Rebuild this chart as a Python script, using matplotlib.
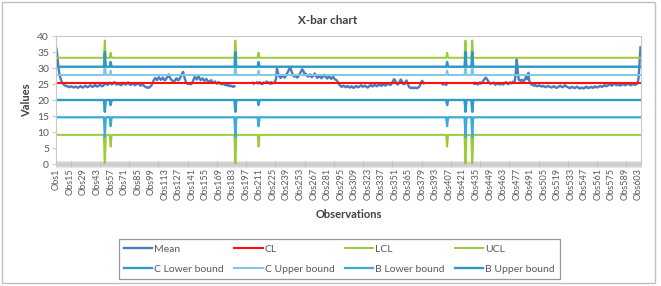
import numpy as np
import matplotlib
matplotlib.use("Agg")
import matplotlib.pyplot as plt
from matplotlib.patches import Rectangle

plt.rcParams['font.family'] = ['Lato', 'DejaVu Sans']

# ---------------- data ----------------
N_OBS = 605
categories = [f"Obs{i}" for i in range(1, N_OBS + 1)]
tick_obs = list(range(1, N_OBS + 1, 14))

mean_values = [
    36.0, 33.5, 30.2, 28.1, 26.9, 26.0, 25.4, 25.0, 24.7, 24.5,
    24.3, 24.4, 24.2, 24.0, 24.1, 24.3, 24.2, 24.0, 23.9, 24.1,
    24.2, 24.0, 23.8, 24.0, 24.2, 24.4, 24.1, 23.9, 24.0, 24.3,
    24.5, 24.2, 24.0, 24.1, 24.4, 24.6, 24.3, 24.1, 24.2, 24.5,
    24.7, 24.4, 24.2, 24.3, 24.6, 24.8, 24.5, 24.3, 24.4, 24.7,
    25.0, 25.3, 24.9, 24.7, 25.1, 25.4, 25.2, 24.9, 25.0, 25.3,
    25.6, 25.2, 24.8, 24.9, 25.3, 25.1, 24.7, 24.6, 25.0, 25.4,
    25.2, 24.8, 24.9, 25.2, 25.5, 25.1, 24.8, 24.7, 25.0, 25.2,
    24.9, 24.6, 24.8, 25.1, 25.3, 25.0, 24.7, 24.5, 24.6, 24.9,
    24.6, 24.3, 24.1, 23.9, 24.0, 23.8, 23.9, 24.2, 24.5, 25.0,
    25.8, 26.4, 26.9, 26.5, 26.2, 26.8, 27.1, 26.6, 26.3, 26.7,
    27.0, 26.5, 26.1, 26.4, 26.9, 27.4, 28.0, 27.2, 26.6, 26.3,
    26.0, 25.7, 25.9, 26.3, 26.8, 26.4, 26.1, 26.5, 27.0, 27.6,
    28.3, 28.8, 27.5, 26.4, 25.6, 25.2, 25.0, 25.3, 25.1, 24.9,
    25.2, 25.8, 26.6, 27.2, 26.8, 26.4, 26.9, 27.5, 26.7, 26.2,
    26.5, 26.8, 26.3, 26.0, 26.2, 26.6, 26.1, 25.8, 25.6, 25.9,
    26.2, 25.7, 25.4, 25.5, 25.8, 25.3, 25.1, 25.4, 25.6, 25.2,
    25.0, 24.9, 25.2, 25.0, 24.7, 24.8, 24.6, 24.5, 24.7, 24.4,
    24.3, 24.5, 24.2, 24.1, 24.3, None, None, None, None, None,
    None, None, None, None, None, None, None, None, None, None,
    None, None, None, 25.4, 25.1, None, None, 25.5, 25.2, 25.3,
    25.6, 25.2, None, 25.0, 25.4, None, None, 25.7, 25.3, 25.5,
    None, 25.1, 25.6, 25.2, None, 25.4, 25.8, 26.5, 29.8, 28.6,
    27.6, 27.2, 26.9, 27.3, 27.8, 27.4, 27.0, 27.5, 28.1, 28.6,
    29.2, 29.9, 30.0, 29.1, 28.2, 27.6, 27.3, 27.8, 27.4, 27.0,
    27.3, 27.9, 28.4, 29.0, 29.6, 29.3, 28.5, 27.9, 28.2, 27.7,
    27.3, 27.6, 28.0, 27.5, 27.1, 27.4, 27.8, 28.3, 27.7, 27.2,
    26.9, 27.3, 27.7, 27.2, 26.8, 27.1, 27.5, 27.9, 27.4, 27.0,
    26.7, 27.1, 27.4, 27.0, 26.6, 26.9, 27.3, 26.8, 26.5, 26.3,
    26.1, 25.6, 25.0, 24.6, 24.3, 24.1, 24.3, 24.5, 24.2, 24.0,
    24.2, 24.4, 24.1, 23.9, 24.0, 24.3, 24.1, 23.8, 23.9, 24.2,
    24.4, 24.2, 24.0, 24.1, 24.4, 24.6, 24.3, 24.1, 24.3, 24.5,
    24.3, 24.0, 23.9, 24.2, 24.5, 24.7, 24.4, 24.2, 24.5, 24.8,
    24.6, 24.3, 24.4, 24.7, 24.9, 24.6, 24.4, 24.7, 25.0, 24.8,
    24.5, 24.6, 24.9, 25.2, 25.0, 24.7, 24.8, 25.3, 25.9, 26.5,
    26.2, 25.6, 25.1, 24.8, 25.2, 25.8, 26.4, 26.0, 25.3, 24.9,
    25.0, 25.6, 26.1, 25.2, 24.5, 24.0, 23.8, 23.7, 23.9, 23.8,
    23.7, 23.9, 23.8, 23.7, 23.9, 24.1, 24.6, 25.4, 26.0, 25.7,
    25.2, None, None, None, None, None, None, None, None, None,
    None, None, None, None, None, None, None, None, None, 25.1,
    24.8, 25.2, 25.0, 24.7, 25.3, None, None, None, None, None,
    None, None, None, None, None, None, None, None, None, None,
    None, None, None, None, None, None, None, None, None, None,
    None, 25.3, 25.0, 25.4, 25.1, None, 24.9, 25.2, 25.5, 25.1,
    25.4, 25.8, 26.3, 26.7, 27.0, 26.6, 26.1, 25.6, 25.3, 25.0,
    25.2, None, 25.4, 25.0, 24.8, None, 25.1, 25.3, 24.9, None,
    25.0, 25.2, 24.8, 25.1, 25.4, 25.6, 25.2, 24.9, 25.3, 25.5,
    25.2, 25.4, 25.7, 25.5, 26.0, 28.6, 32.7, 29.0, 26.4, 26.1,
    26.0, 26.3, 26.1, 25.9, 26.2, 26.8, 27.7, 26.5, 28.5, 26.0,
    25.3, 24.9, 24.8, 24.6, 24.5, 24.7, 24.5, 24.3, 24.4, 24.6,
    24.5, 24.3, 24.2, 24.4, 24.3, 24.1, 24.0, 24.2, 24.4, 24.3,
    24.1, 24.0, 23.9, 24.1, 24.3, 24.2, 24.0, 23.8, 23.9, 24.1,
    24.3, 24.5, 24.2, 24.0, 24.1, 24.4, 24.6, 24.3, 24.1, 24.0,
    23.8, 23.7, 23.9, 24.1, 24.0, 23.8, 23.7, 23.9, 24.2, 24.0,
    23.8, 23.6, 23.7, 23.9, 23.8, 23.6, 23.7, 24.0, 24.2, 23.9,
    23.7, 23.8, 24.0, 24.1, 23.9, 23.8, 24.0, 24.3, 24.1, 23.9,
    24.0, 24.2, 24.4, 24.3, 24.1, 24.2, 24.5, 24.7, 24.4, 24.3,
    24.5, 24.8, 25.0, 24.7, 24.5, 24.6, 24.9, 25.2, 24.9, 24.6,
    24.7, 25.0, 24.8, 24.5, 24.6, 24.9, 25.1, 24.8, 24.6, 24.7,
    24.9, 25.2, 25.0, 24.7, 24.6, 24.8, 25.1, 24.9, 24.7, 24.8,
    25.0, 25.3, 27.0, 32.0, 36.5,
]

# control limits (constant level, with wider limits at a few observations)
cl_value = 25.4
ucl_base, lcl_base = 33.2, 9.1
c_upper_base, c_lower_base = 27.8, 20.0
b_upper_base, b_lower_base = 30.4, 14.6

spike_obs = [51, 57, 186, 210, 405, 424, 431]
ucl_spike = [38.6, 34.8, 38.6, 34.8, 34.8, 38.6, 38.6]
lcl_spike = [-2.0, 5.4, -2.0, 5.4, 5.4, -2.0, -2.0]
c_upper_spike = [31.9, 29.2, 31.9, 29.2, 29.2, 31.9, 31.9]
c_lower_spike = [16.3, 18.4, 16.3, 18.4, 18.4, 16.3, 16.3]
b_upper_spike = [35.0, 31.9, 35.0, 31.9, 31.9, 35.0, 35.0]
b_lower_spike = [8.5, 11.8, 8.5, 11.8, 11.8, 8.5, 8.5]

# ---------------- build series ----------------
x = np.arange(1, N_OBS + 1)
mean = np.array([np.nan if v is None else v for v in mean_values], dtype=float)
idx = np.array(spike_obs) - 1


def limit_series(base, spikes):
    s = np.full(N_OBS, base, dtype=float)
    s[idx] = spikes
    return s


cl = np.full(N_OBS, cl_value)
ucl = limit_series(ucl_base, ucl_spike)
lcl = limit_series(lcl_base, lcl_spike)
c_up = limit_series(c_upper_base, c_upper_spike)
c_lo = limit_series(c_lower_base, c_lower_spike)
b_up = limit_series(b_upper_base, b_upper_spike)
b_lo = limit_series(b_lower_base, b_lower_spike)

# ---------------- figure ----------------
W, H = 661, 286
fig = plt.figure(figsize=(W / 100, H / 100), dpi=100)
fig.patch.set_facecolor('white')

fig.add_artist(Rectangle((2 / W, 1 - 283 / H), 653 / W, 281 / H,
                         transform=fig.transFigure, fill=False,
                         edgecolor='#BFBFBF', linewidth=1.0))

ax = fig.add_axes([56 / W, 1 - 164 / H, 585 / W, 128 / H])

green = '#9CCB3A'
h_mean, = ax.plot(x, mean, color='#4F7DBA', lw=1.7, label='Mean', solid_joinstyle='round')
h_cl, = ax.plot(x, cl, color='#FF1010', lw=1.5, label='CL')
h_lcl, = ax.plot(x, lcl, color=green, lw=1.4, label='LCL')
h_ucl, = ax.plot(x, ucl, color=green, lw=1.4, label='UCL')
h_clo, = ax.plot(x, c_lo, color='#2D9CC9', lw=1.7, label='C Lower bound')
h_cup, = ax.plot(x, c_up, color='#7CC8E4', lw=1.4, label='C Upper bound')
h_blo, = ax.plot(x, b_lo, color='#3EAAD6', lw=1.6, label='B Lower bound')
h_bup, = ax.plot(x, b_up, color='#2B98C5', lw=1.7, label='B Upper bound')

ax.set_xlim(0.5, N_OBS + 0.5)
ax.set_ylim(0, 40)
ax.set_yticks(range(0, 41, 5))
ax.set_xticks(tick_obs)
ax.set_xticklabels([categories[i - 1] for i in tick_obs], rotation=90,
                   fontsize=6.6, color='#595959')
ax.set_xticks(np.arange(0.5, N_OBS + 1, 1.0), minor=True)
ax.tick_params(axis='x', which='major', length=0, pad=3)
ax.tick_params(axis='x', which='minor', length=4, width=0.4,
               color='#B0B0B0', direction='inout')
ax.tick_params(axis='y', labelsize=7.5, labelcolor='#595959', length=3,
               width=0.6, color='#BFBFBF', pad=2)
for sp in ax.spines.values():
    sp.set_color('#C8C8C8')
    sp.set_linewidth(0.8)

fig.text(328 / W, 1 - 21 / H, 'X-bar chart', ha='center', va='center',
         fontsize=8.5, fontweight='bold', color='#404040')
fig.text(27 / W, 1 - 100 / H, 'Values', ha='center', va='center',
         rotation=90, fontsize=8, fontweight='bold', color='#404040')
fig.text(349 / W, 1 - 214 / H, 'Observations', ha='center', va='center',
         fontsize=8, fontweight='bold', color='#404040')

handles = [h_mean, h_clo, h_cl, h_cup, h_lcl, h_blo, h_ucl, h_bup]
leg = fig.legend(handles=handles, labels=[h.get_label() for h in handles],
                 ncol=4, loc='center', bbox_to_anchor=(339.5 / W, 1 - 259 / H),
                 fontsize=7.5, frameon=True, fancybox=False,
                 handlelength=2.7, handletextpad=0.2, columnspacing=1.0,
                 labelspacing=1.0, borderpad=0.5, labelcolor='#595959')
leg.get_frame().set_edgecolor('#7F7F7F')
leg.get_frame().set_linewidth(0.9)

fig.savefig('out.png', dpi=100, facecolor='white')
